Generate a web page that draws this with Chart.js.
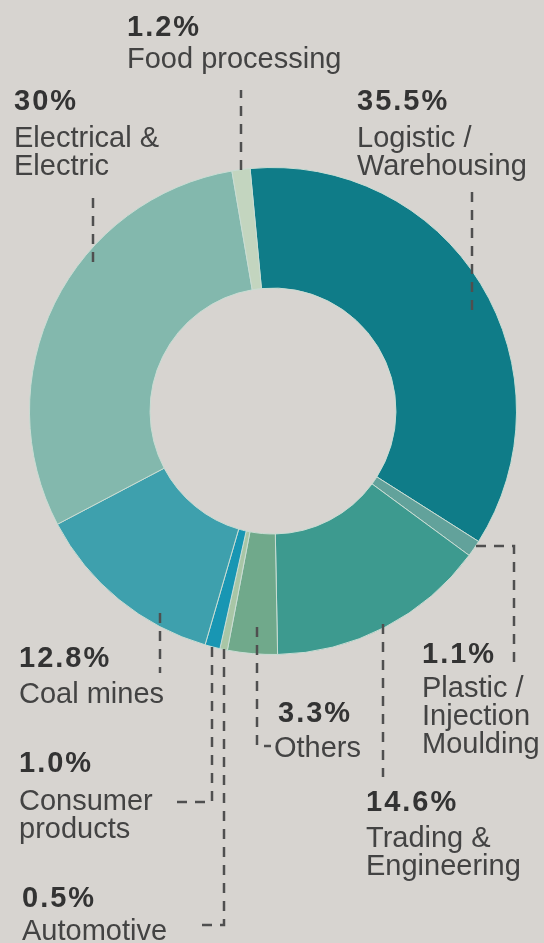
<!DOCTYPE html>
<html>
<head>
<meta charset="utf-8">
<title>Share by sector</title>
<script src="https://cdn.jsdelivr.net/npm/chart.js@4.4.1/dist/chart.umd.min.js"></script>
<style>
  html, body { margin: 0; padding: 0; background: #d7d4d0; }
  #wrap { width: 544px; height: 943px; }
</style>
</head>
<body>
<div id="wrap"><canvas id="donut" width="544" height="943"></canvas></div>
<script>
// slices, clockwise from the top
const sectors = ["Logistic / Warehousing", "Plastic / Injection Moulding", "Trading & Engineering", "Others",
  "Automotive", "Consumer products", "Coal mines", "Electrical & Electric", "Food processing"];
const shares = [35.5, 1.1, 14.6, 3.3, 0.5, 1.0, 12.8, 30, 1.2];
const shareText = ["35.5%", "1.1%", "14.6%", "3.3%", "0.5%", "1.0%", "12.8%", "30%", "1.2%"];
const nameLines = [["Logistic /", "Warehousing"], ["Plastic /", "Injection", "Moulding"], ["Trading &", "Engineering"],
  ["Others"], ["Automotive"], ["Consumer", "products"], ["Coal mines"], ["Electrical &", "Electric"], ["Food processing"]];

const sliceColors = ["#0f7c88", "#62a29b", "#3d9a8f", "#70a98b", "#a9c6a6", "#1896b3", "#3ea0ad", "#83b8ad", "#c3d5bf"];

// where each label block sits: x, baseline of the % line, baseline of the first name line
const labelPos = [
  { x: 357, y: 110, nx: 357, ny: 147 },
  { x: 422, y: 663, nx: 422, ny: 697 },
  { x: 366, y: 811, nx: 366, ny: 847 },
  { x: 278, y: 722, nx: 274, ny: 757 },
  { x: 22, y: 907, nx: 22, ny: 940 },
  { x: 19, y: 772, nx: 19, ny: 810 },
  { x: 19, y: 667, nx: 19, ny: 703 },
  { x: 14, y: 110, nx: 14, ny: 147 },
  { x: 127, y: 36, nx: 127, ny: 68 }
];

// dashed leaders: start on the slice (t = share of its sweep, k = share of outer radius), then v/h steps
const leaders = [
  { t: 0.536, k: 0.915, path: [["v", 184]] },
  { t: 0.3, k: 1.0, path: [["h", 514], ["v", 662]] },
  { t: 0.5, k: 0.985, path: [["v", 777]] },
  { t: 0.45, k: 0.89, path: [["v", 746], ["h", 271]] },
  { t: 0.5, k: 1.0, path: [["v", 925], ["h", 196]] },
  { t: 0.5, k: 1.0, path: [["v", 802], ["h", 173]] },
  { t: 0.28, k: 0.95, path: [["v", 673]] },
  { t: 0.623, k: 0.96, path: [["v", 190]] },
  { t: 0.5, k: 1.0, path: [["v", 90]] }
];

const calloutPlugin = {
  id: "callouts",
  afterDatasetsDraw(chart) {
    const ctx = chart.ctx;
    const arcs = chart.getDatasetMeta(0).data;
    ctx.save();

    ctx.strokeStyle = "#4f4f4f";
    ctx.lineWidth = 2.5;
    ctx.setLineDash([10, 8]);
    leaders.forEach(function (ld, i) {
      const arc = arcs[i];
      const a = arc.startAngle + (arc.endAngle - arc.startAngle) * ld.t;
      const r = arc.outerRadius * ld.k;
      let px = Math.round(arc.x + r * Math.cos(a));
      let py = Math.round(arc.y + r * Math.sin(a));
      ctx.beginPath();
      ctx.moveTo(px, py);
      ld.path.forEach(function (step) {
        if (step[0] === "v") py = step[1]; else px = step[1];
        ctx.lineTo(px, py);
      });
      ctx.stroke();
    });
    ctx.setLineDash([]);

    ctx.textAlign = "left";
    ctx.textBaseline = "alphabetic";
    labelPos.forEach(function (p, i) {
      ctx.fillStyle = "#333333";
      ctx.font = "bold 29px 'Liberation Sans', Arial, sans-serif";
      ctx.letterSpacing = "2px";
      ctx.fillText(shareText[i], p.x, p.y);
      ctx.fillStyle = "#434343";
      ctx.font = "29px 'Liberation Sans', Arial, sans-serif";
      ctx.letterSpacing = "0px";
      nameLines[i].forEach(function (line, j) {
        ctx.fillText(line, p.nx, p.ny + j * 28);
      });
    });
    ctx.restore();
  }
};

new Chart(document.getElementById("donut"), {
  type: "doughnut",
  data: {
    labels: sectors,
    datasets: [{
      data: shares,
      backgroundColor: sliceColors,
      borderColor: "#c8dcd3",
      borderWidth: 1
    }]
  },
  options: {
    responsive: false,
    animation: false,
    devicePixelRatio: 1,
    rotation: -5.4,
    cutout: "50.5%",
    layout: { padding: { left: 29, right: 27, top: 167, bottom: 288 } },
    plugins: {
      legend: { display: false },
      tooltip: { enabled: false }
    }
  },
  plugins: [calloutPlugin]
});
</script>
</body>
</html>
